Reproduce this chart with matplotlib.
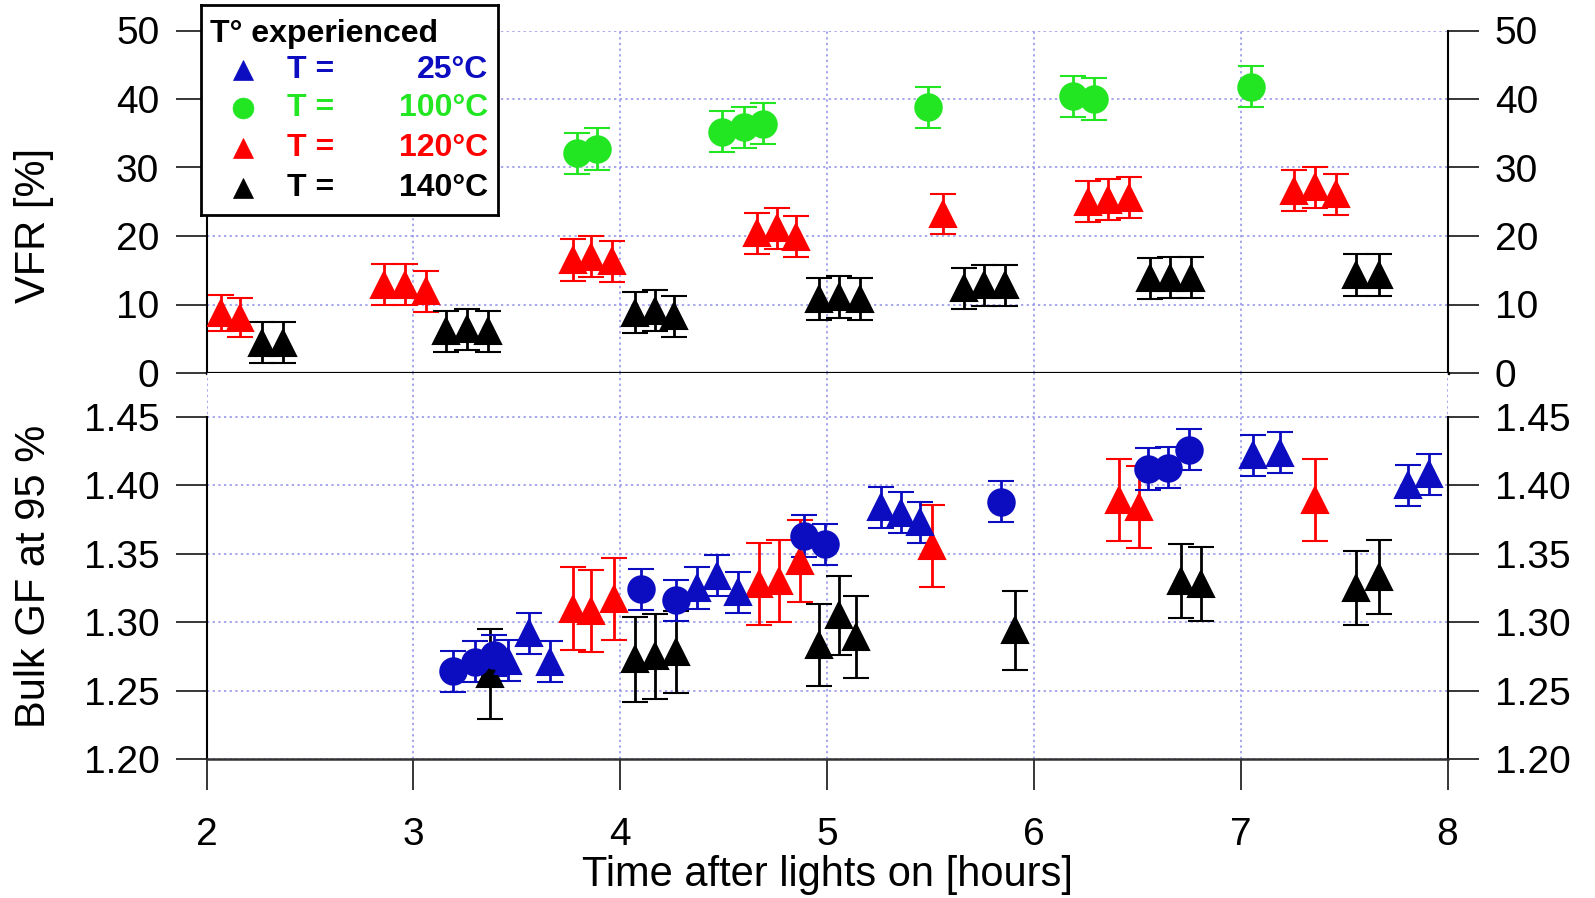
import matplotlib
matplotlib.use("Agg")
import matplotlib.pyplot as plt
from matplotlib.lines import Line2D

plt.rcParams['font.family'] = ['Liberation Sans', 'DejaVu Sans']

# ---- colours for the four temperatures ----
C_BLUE = '#0C0CC0'
C_GREEN = '#22E622'
C_RED = '#FF0000'
C_BLACK = '#000000'

# ---- upper panel: volume fraction remaining (VFR, %) ----
vfr_green_t = [3.79, 3.89, 4.49, 4.60, 4.69, 5.49, 6.19, 6.29, 7.05]
vfr_green = [32.1, 32.7, 35.2, 35.9, 36.4, 38.8, 40.4, 40.0, 41.8]
vfr_green_err = [3.0, 3.0, 3.0, 3.0, 3.0, 3.0, 3.0, 3.0, 3.0]

vfr_red_t = [2.07, 2.16, 2.86, 2.96, 3.06, 3.77, 3.86, 3.96, 4.66, 4.76, 4.85,
             5.56, 6.26, 6.36, 6.46, 7.26, 7.36, 7.46]
vfr_red = [8.8, 8.1, 12.9, 12.9, 11.9, 16.5, 17.0, 16.3, 20.4, 21.1, 19.9,
           23.2, 25.0, 25.3, 25.6, 26.6, 27.1, 26.1]
vfr_red_err = [2.6, 2.8, 3.0, 3.0, 3.0, 3.0, 3.0, 3.0, 3.0, 3.0, 3.0,
               2.9, 3.0, 3.0, 3.0, 3.0, 3.0, 3.0]

vfr_black_t = [2.27, 2.37, 3.16, 3.26, 3.36, 4.07, 4.17, 4.26, 4.96, 5.06, 5.16,
               5.66, 5.76, 5.86, 6.56, 6.66, 6.76, 7.56, 7.67]
vfr_black = [4.4, 4.4, 6.1, 6.4, 6.1, 8.8, 9.1, 8.3, 10.8, 11.1, 10.8,
             12.4, 12.8, 12.8, 13.8, 13.9, 13.9, 14.3, 14.3]
vfr_black_err = [3.0] * 19

# ---- lower panel: bulk growth factor at 95 % RH ----
gf_bcirc_t = [3.19, 3.30, 3.39, 4.10, 4.27, 4.89, 4.99, 5.84, 6.55, 6.65, 6.75]
gf_bcirc = [1.264, 1.271, 1.276, 1.324, 1.316, 1.363, 1.357, 1.388, 1.412, 1.413, 1.426]
gf_bcirc_err = [0.015] * 11

gf_btri_t = [3.46, 3.56, 3.66, 4.37, 4.47, 4.57, 5.26, 5.36, 5.45, 7.06, 7.19, 7.81, 7.91]
gf_btri = [1.272, 1.292, 1.271, 1.325, 1.334, 1.322, 1.384, 1.380, 1.373,
           1.422, 1.424, 1.400, 1.408]
gf_btri_err = [0.015] * 13

gf_red_t = [3.77, 3.86, 3.97, 4.67, 4.77, 4.87, 5.51, 6.41, 6.51, 7.36]
gf_red = [1.310, 1.308, 1.317, 1.328, 1.330, 1.345, 1.356, 1.389, 1.384, 1.389]
gf_red_err = [0.030] * 10

gf_black_t = [3.37, 4.07, 4.17, 4.27, 4.96, 5.06, 5.14, 5.91, 6.71, 6.81, 7.56, 7.67]
gf_black = [1.262, 1.273, 1.275, 1.278, 1.283, 1.305, 1.289, 1.294, 1.330, 1.328, 1.325, 1.333]
gf_black_err = [0.033, 0.031, 0.031, 0.030, 0.030, 0.029, 0.030, 0.029, 0.027, 0.027, 0.027, 0.027]

x_ticks = [2, 3, 4, 5, 6, 7, 8]
vfr_ticks = [0, 10, 20, 30, 40, 50]
gf_ticks = [1.20, 1.25, 1.30, 1.35, 1.40, 1.45]
gf_tick_labels = ['1.20', '1.25', '1.30', '1.35', '1.40', '1.45']

legend_entries = [('^', C_BLUE, 'T =', '25°C'),
                  ('o', C_GREEN, 'T =', '100°C'),
                  ('^', C_RED, 'T =', '120°C'),
                  ('^', C_BLACK, 'T =', '140°C')]

W, H = 1595, 898
fig = plt.figure(figsize=(W / 100, H / 100), dpi=100)

left, right = 206.5 / W, 1447.5 / W
y50, y0, y120 = 30.5, 373.0, 759.0
ax1 = fig.add_axes([left, 1 - y0 / H, right - left, (y0 - y50) / H])
ax2 = fig.add_axes([left, 1 - y120 / H, right - left, (y120 - y0) / H])

GRID = dict(color='#8E8EE8', linestyle=(0, (1.5, 2.2)), linewidth=1.1)
TICK = 28
LABEL = 30


def series(ax, t, v, e, marker, color):
    ax.errorbar(t, v, yerr=e, fmt=marker, color=color, ms=19, mec=color, mew=1.5,
                ecolor=color, elinewidth=2.0, capsize=9.5, capthick=2.0, zorder=3)


# upper panel
series(ax1, vfr_red_t, vfr_red, vfr_red_err, '^', C_RED)
series(ax1, vfr_black_t, vfr_black, vfr_black_err, '^', C_BLACK)
series(ax1, vfr_green_t, vfr_green, vfr_green_err, 'o', C_GREEN)

ax1.set_xlim(2, 8)
ax1.set_ylim(0, 50)
ax1.set_xticks(x_ticks)
ax1.set_yticks(vfr_ticks)
ax1.grid(True, **GRID)
ax1.set_axisbelow(True)
ax1.tick_params(axis='x', bottom=False, labelbottom=False)
ax1.tick_params(axis='y', left=True, right=True, labelleft=True, labelright=True,
                direction='out', length=22.5, width=1.1, pad=11.5, labelsize=TICK)
ax1.spines['top'].set_visible(False)
ax1.spines['bottom'].set_linewidth(2.3)
ax1.spines['left'].set_linewidth(1.5)
ax1.spines['right'].set_linewidth(1.5)
ax1.set_ylabel('VFR [%]', fontsize=LABEL, ha='center', va='center')
ax1.yaxis.set_label_coords(-0.139, 0.432)

# lower panel
series(ax2, gf_red_t, gf_red, gf_red_err, '^', C_RED)
series(ax2, gf_black_t, gf_black, gf_black_err, '^', C_BLACK)
series(ax2, gf_btri_t, gf_btri, gf_btri_err, '^', C_BLUE)
series(ax2, gf_bcirc_t, gf_bcirc, gf_bcirc_err, 'o', C_BLUE)

ax2.set_xlim(2, 8)
ax2.set_ylim(1.20, 1.45 + 0.25 * (417 - y0) / (y120 - 417))
ax2.set_xticks(x_ticks)
ax2.set_yticks(gf_ticks, gf_tick_labels)
ax2.grid(True, **GRID)
ax2.set_axisbelow(True)
ax2.tick_params(axis='x', direction='out', length=22.5, width=1.1, pad=19, labelsize=TICK)
ax2.tick_params(axis='y', left=True, right=True, labelleft=True, labelright=True,
                direction='out', length=22.5, width=1.1, pad=11.5, labelsize=TICK)
ax2.spines['top'].set_visible(False)
for side in ('left', 'right'):
    ax2.spines[side].set_bounds(1.20, 1.45)
    ax2.spines[side].set_linewidth(1.5)
ax2.spines['bottom'].set_linewidth(1.8)
ax2.spines['bottom'].set_color('#333333')
ax2.set_ylabel('Bulk GF at 95 %', fontsize=LABEL, ha='center', va='center')
ax2.yaxis.set_label_coords(-0.139, 0.474)
ax2.set_xlabel('Time after lights on [hours]', fontsize=LABEL, va='center')
ax2.xaxis.set_label_coords(0.5, (y120 - 875) / (y120 - y0))

# legend box
lx0, ly0, lx1, ly1 = 201, 5, 498, 215
lax = fig.add_axes([lx0 / W, 1 - ly1 / H, (lx1 - lx0) / W, (ly1 - ly0) / H])
lax.set_xlim(0, lx1 - lx0)
lax.set_ylim(ly1 - ly0, 0)
lax.set_xticks([])
lax.set_yticks([])
for s in lax.spines.values():
    s.set_linewidth(2.0)
lax.text(9, 37, 'T° experienced', fontsize=23, fontweight='bold', va='baseline', ha='left')
row_y = [65, 103, 143, 183]
for (mk, col, lab, val), yy in zip(legend_entries, row_y):
    lax.add_line(Line2D([42], [yy], marker=mk, color=col, ms=15, mec=col, mew=0.5,
                        linestyle='none'))
    lax.text(86, yy, lab, color=col, fontsize=23, fontweight='bold', va='center', ha='left')
    lax.text(287, yy, val, color=col, fontsize=23, fontweight='bold', va='center', ha='right')

fig.savefig('out.png', dpi=100)
